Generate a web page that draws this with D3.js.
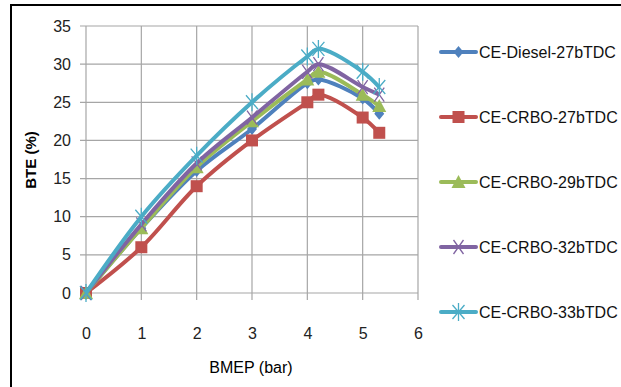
<!DOCTYPE html>
<html>
<head>
<meta charset="utf-8">
<script src="https://cdn.jsdelivr.net/npm/d3@7"></script>
<style>
  body { margin: 0; background: #fff; }
  .tick text { font-family: 'Liberation Sans Narrow', 'Liberation Sans', sans-serif; font-size: 16px; fill: #222; }
  .legend text { font-family: 'Liberation Sans Narrow', 'Liberation Sans', sans-serif; font-size: 16px; fill: #111; }
</style>
</head>
<body>
<div id="chart"></div>
<script>
var bmep = [0, 1, 2, 3, 4, 4.2, 5, 5.3]
var seriesNames = ['CE-Diesel-27bTDC', 'CE-CRBO-27bTDC', 'CE-CRBO-29bTDC', 'CE-CRBO-32bTDC', 'CE-CRBO-33bTDC']
var diesel27 = [0, 8.5, 16, 21.5, 27.5, 28, 25.5, 23.5]
var crbo27 = [0, 6, 14, 20, 25, 26, 23, 21]
var crbo29 = [0, 8.5, 16.5, 22.5, 28, 29, 26, 24.5]
var crbo32 = [0, 9, 17, 23, 29, 30, 27, 26]
var crbo33 = [0, 10, 18, 25, 31, 32, 29, 27]
var colors = ['#4F81BD', '#C0504D', '#9BBB59', '#8064A2', '#4BACC6']
var markers = ['diamond', 'square', 'triangle', 'cross', 'star']
var xTicks = [0, 1, 2, 3, 4, 5, 6]
var yTicks = [0, 5, 10, 15, 20, 25, 30, 35]

var allValues = [diesel27, crbo27, crbo29, crbo32, crbo33]

var width = 621
var height = 387

var svg = d3.select('#chart').append('svg')
  .attr('width', width)
  .attr('height', height)

// frame (only left and top edges show)
svg.append('rect')
  .attr('x', 11).attr('y', 5)
  .attr('width', 640).attr('height', 400)
  .attr('fill', 'none')
  .attr('stroke', '#000')
  .attr('stroke-width', 2)

var x = d3.scaleLinear().domain([0, 6]).range([86, 418])
var y = d3.scaleLinear().domain([0, 35]).range([293, 26])

// grid
svg.append('g')
  .selectAll('line')
  .data(yTicks)
  .enter().append('line')
  .attr('x1', x(0) - 6).attr('x2', x(6))
  .attr('y1', function (d) { return y(d) })
  .attr('y2', function (d) { return y(d) })
  .attr('stroke', '#a6a6a6')
  .attr('stroke-width', 1.2)

svg.append('g')
  .selectAll('line')
  .data(xTicks)
  .enter().append('line')
  .attr('x1', function (d) { return x(d) })
  .attr('x2', function (d) { return x(d) })
  .attr('y1', y(35)).attr('y2', y(0) + 7)
  .attr('stroke', '#a6a6a6')
  .attr('stroke-width', 1.2)

// axes (labels only)
svg.append('g')
  .attr('transform', 'translate(' + x(0) + ',0)')
  .call(d3.axisLeft(y).tickValues(yTicks).tickFormat(d3.format('d')).tickSize(0).tickPadding(15))
  .call(function (g) { g.select('.domain').remove() })

svg.append('g')
  .attr('transform', 'translate(0,' + y(0) + ')')
  .call(d3.axisBottom(x).tickValues(xTicks).tickFormat(d3.format('d')).tickSize(0).tickPadding(35))
  .call(function (g) { g.select('.domain').remove() })

svg.append('text')
  .attr('x', 251).attr('y', 373)
  .attr('text-anchor', 'middle')
  .style('font-family', "'Liberation Sans Narrow', 'Liberation Sans', sans-serif")
  .style('font-size', '16px')
  .text('BMEP (bar)')

svg.append('text')
  .attr('transform', 'translate(36,160) rotate(-90)')
  .attr('text-anchor', 'middle')
  .style('font-family', "'Liberation Sans', Arial, sans-serif")
  .style('font-size', '15px')
  .style('font-weight', 'bold')
  .text('BTE (%)')

function drawMarker (g, type, color) {
  if (type === 'diamond') {
    g.append('path').attr('d', 'M0,-6L5,0L0,6L-5,0Z').attr('fill', color)
  } else if (type === 'square') {
    g.append('rect').attr('x', -6).attr('y', -6).attr('width', 12).attr('height', 12).attr('fill', color)
  } else if (type === 'triangle') {
    g.append('path').attr('d', 'M0,-7L7,6L-7,6Z').attr('fill', color)
  } else if (type === 'cross') {
    g.append('path').attr('d', 'M-5,-7L5,7M5,-7L-5,7').attr('stroke', color).attr('stroke-width', 1.3)
  } else {
    g.append('path').attr('d', 'M-6,-7L6,7M6,-7L-6,7M0,-9L0,9').attr('stroke', color).attr('stroke-width', 1.3)
  }
}

var line = d3.line()
  .x(function (d, i) { return x(bmep[i]) })
  .y(function (d) { return y(d) })
  .curve(d3.curveCatmullRom.alpha(0.5))

allValues.forEach(function (vals, s) {
  svg.append('path')
    .datum(vals)
    .attr('d', line)
    .attr('fill', 'none')
    .attr('stroke', colors[s])
    .attr('stroke-width', 4)
    .attr('stroke-linejoin', 'round')

  vals.forEach(function (v, i) {
    var g = svg.append('g')
      .attr('transform', 'translate(' + x(bmep[i]) + ',' + y(v) + ')')
    drawMarker(g, markers[s], colors[s])
  })
})

// legend
var legend = svg.append('g').attr('class', 'legend')
seriesNames.forEach(function (name, s) {
  var ly = 52 + s * 65
  legend.append('line')
    .attr('x1', 441).attr('x2', 476)
    .attr('y1', ly).attr('y2', ly)
    .attr('stroke', colors[s])
    .attr('stroke-width', 4)
    .attr('stroke-linecap', 'round')
  var g = legend.append('g').attr('transform', 'translate(458.5,' + ly + ')')
  drawMarker(g, markers[s], colors[s])
  legend.append('text')
    .attr('x', 479).attr('y', ly + 6)
    .text(name)
})
</script>
</body>
</html>
